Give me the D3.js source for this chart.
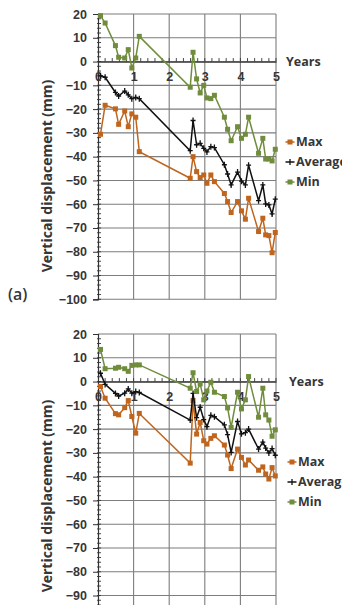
<!DOCTYPE html>
<html>
<head>
<meta charset="utf-8">
<script src="https://cdn.jsdelivr.net/npm/d3@7"></script>
<style>
  html, body { margin: 0; padding: 0; background: #fff; overflow: hidden; }
  svg { display: block; font-family: "Open Sans", "Noto Sans", sans-serif; }
</style>
</head>
<body>
<svg id="chart" width="342" height="605"></svg>
<script>
// ---------- DATA ----------
const years = [0.07, 0.2, 0.49, 0.58, 0.75, 0.85, 0.95, 1.06, 1.16,
  2.59, 2.67, 2.77, 2.87, 2.97, 3.06, 3.17, 3.27, 3.55, 3.64, 3.74,
  3.92, 4.03, 4.14, 4.23, 4.51, 4.63, 4.71, 4.80, 4.89, 4.98];

const seriesNames = ["Max", "Average", "Min"];

// Panel (a)
const maxA = [-30.6, -18.4, -19.9, -26.4, -20.8, -27.4, -22, -23.4, -37.9,
  -49.1, -40, -46.3, -48.8, -47.7, -51.2, -47.7, -50.5, -55.5, -58.9, -63.5,
  -58.9, -62.8, -66.3, -57.5, -71.5, -65.9, -72.9, -73.2, -80.4, -71.9];
const avgA = [-6, -6.6, -13, -14.5, -12.4, -14, -15.6, -15.1, -15.6,
  -37.5, -24.8, -35, -34.4, -36.5, -38, -35.8, -36.2, -43.4, -47.3, -51.9,
  -46.5, -50.3, -51.9, -43.6, -58.5, -51.9, -59.9, -60.3, -64.1, -57.9];
const minA = [19.3, 16.2, 6.7, 1.8, 1.5, 5, -2.7, 1.5, 10.6,
  -10.8, 3.9, -7.3, -13.2, -10, -15.3, -15.6, -14.2, -23.4, -28.5, -33.3,
  -27.4, -32.3, -30.6, -23.4, -38.6, -32.3, -41, -41, -41.8, -36.9];

// Panel (b)
const maxB = [-2.1, -7, -13.5, -14, -11, -8, -14.7, -21.7, -13.4,
  -34.3, -8, -22.1, -17.2, -24.9, -26.3, -23.9, -22.8, -26.7, -30.9, -36.6,
  -28.4, -31.9, -35.1, -33, -37.3, -35.9, -38.9, -41, -36.2, -39.7];
const avgB = [3.5, -1.2, -5, -6.1, -4.9, -3.1, -4.9, -4.2, -4.6,
  -16.2, -5, -15.2, -10.8, -16, -19, -14.2, -14.8, -18.2, -22.3, -29.8,
  -16.8, -22, -21.5, -20, -28.4, -25.5, -28, -30, -28.2, -31];
const minB = [13.5, 5.4, 5.6, 6, 5.4, 4.3, 6.8, 7, 7,
  -2.8, 3.7, -4.2, -1, -7.7, -4, -0.3, -4.5, -6.3, -11.1, -19.3,
  -4.5, -11.5, -7.7, 2.1, -15, -2.8, -14, -16.2, -23, -20.3];

const yTickValues = [20, 10, 0, -10, -20, -30, -40, -50, -60, -70, -80, -90, -100];
const xTickValues = [0, 1, 2, 3, 4, 5];
const xAxisTitle = "Years";
const yAxisTitle = "Vertical displacement (mm)";
const panelLabel = "(a)";

// ---------- STYLE ----------
const colors = { "Max": "#bf651e", "Average": "#111111", "Min": "#6f8d3c" };
const textColor = "#363636";
const gridColor = "#7d7d7d";
const H = 605;

const svg = d3.select("#chart");

function drawPanel(top, series, opts) {
  const x = d3.scaleLinear().domain([0, 5]).range([98, 276]);
  const y = d3.scaleLinear().domain([20, -100]).range([top, top + 285.3]);
  const g = svg.append("g");

  // grid lines
  g.append("g").selectAll("line").data(yTickValues).join("line")
    .attr("x1", x(0)).attr("x2", x(5))
    .attr("y1", d => y(d)).attr("y2", d => y(d))
    .attr("stroke", gridColor).attr("stroke-width", 1.1);
  g.append("g").selectAll("line").data(xTickValues.filter(d => d > 0)).join("line")
    .attr("x1", d => x(d)).attr("x2", d => x(d))
    .attr("y1", y(20)).attr("y2", y(-100))
    .attr("stroke", gridColor).attr("stroke-width", 1.1);

  // y axis
  const yAxis = d3.axisLeft(y).tickValues(yTickValues).tickSize(5).tickPadding(6)
    .tickFormat(d3.format("d"));
  const ya = g.append("g").attr("transform", `translate(${x(0)},0)`).call(yAxis);
  ya.select(".domain").attr("stroke", "#333").attr("stroke-width", 1.2);
  ya.selectAll(".tick line").attr("stroke", "#333");
  ya.selectAll(".tick text").attr("fill", textColor)
    .style("font-size", "12.5px").style("font-weight", "bold");
  // labels that fall below the visible page are not drawn
  ya.selectAll(".tick").filter(d => y(d) > H - 6).select("text").remove();
  // minor y ticks
  g.append("g").selectAll("line").data(d3.range(-100, 20, 2)).join("line")
    .attr("x1", x(0) - 1).attr("x2", x(0) + 3)
    .attr("y1", d => y(d)).attr("y2", d => y(d))
    .attr("stroke", "#333").attr("stroke-width", 0.9);

  // x axis at y = 0
  const xAxis = d3.axisBottom(x).tickValues(xTickValues).tickSize(0).tickPadding(11)
    .tickFormat(d3.format("d"));
  const xa = g.append("g").attr("transform", `translate(0,${y(0)})`).call(xAxis);
  xa.select(".domain").attr("stroke", "#333").attr("stroke-width", 1.2);
  xa.selectAll(".tick text").attr("fill", textColor)
    .style("font-size", "12.5px").style("font-weight", "bold");
  // minor x ticks
  g.append("g").selectAll("line").data(d3.range(0.2, 5.01, 0.2)).join("line")
    .attr("x1", d => x(d)).attr("x2", d => x(d))
    .attr("y1", y(0) - 3.5).attr("y2", y(0))
    .attr("stroke", "#333").attr("stroke-width", 0.9);

  g.append("text").attr("x", opts.yearsX).attr("y", y(0)).attr("dy", "0.35em")
    .attr("fill", textColor).style("font-size", "12.5px").style("font-weight", "bold")
    .text(xAxisTitle);

  // y title
  g.append("text")
    .attr("transform", `translate(52,${top + 162}) rotate(-90)`)
    .attr("text-anchor", "middle")
    .attr("fill", textColor).style("font-size", "14px").style("font-weight", "bold")
    .text(yAxisTitle);

  // series
  const line = d3.line().x((d, i) => x(years[i])).y(d => y(d));
  seriesNames.forEach(name => {
    const vals = series[name];
    const c = colors[name];
    g.append("path").datum(vals).attr("d", line)
      .attr("fill", "none").attr("stroke", c).attr("stroke-width", 1.5);
    if (name === "Average") {
      g.append("g").selectAll("path").data(vals).join("path")
        .attr("transform", (d, i) => `translate(${x(years[i])},${y(d)})`)
        .attr("d", "M-2.5,0H2.5M0,-3V3").attr("stroke", c).attr("stroke-width", 1.3);
    } else {
      g.append("g").selectAll("rect").data(vals).join("rect")
        .attr("x", (d, i) => x(years[i]) - 2.5).attr("y", d => y(d) - 2.5)
        .attr("width", 5).attr("height", 5).attr("fill", c);
    }
  });

  // legend
  seriesNames.forEach((name, k) => {
    const ly = opts.legendY + k * 20;
    const c = colors[name];
    const lg = g.append("g");
    lg.append("line").attr("x1", opts.legendX - 4.5).attr("x2", opts.legendX + 4.5)
      .attr("y1", ly).attr("y2", ly).attr("stroke", c).attr("stroke-width", 1.5);
    if (name === "Average") {
      lg.append("path").attr("transform", `translate(${opts.legendX},${ly})`)
        .attr("d", "M0,-3V3").attr("stroke", c).attr("stroke-width", 1.3);
    } else {
      lg.append("rect").attr("x", opts.legendX - 2.5).attr("y", ly - 2.5)
        .attr("width", 5).attr("height", 5).attr("fill", c);
    }
    lg.append("text").attr("x", opts.legendX + 6).attr("y", ly).attr("dy", "0.35em")
      .attr("fill", textColor).style("font-size", "12.5px").style("font-weight", "bold")
      .text(name);
  });

  if (opts.label) {
    g.append("text").attr("x", 8).attr("y", top + 280).attr("dy", "0.35em")
      .attr("fill", textColor).style("font-size", "16px").style("font-weight", "600")
      .text(opts.label);
  }
}

drawPanel(14, { "Max": maxA, "Average": avgA, "Min": minA },
  { legendX: 290, legendY: 142, yearsX: 286, label: panelLabel });
drawPanel(334, { "Max": maxB, "Average": avgB, "Min": minB },
  { legendX: 292, legendY: 462, yearsX: 289, label: null });
</script>
</body>
</html>
